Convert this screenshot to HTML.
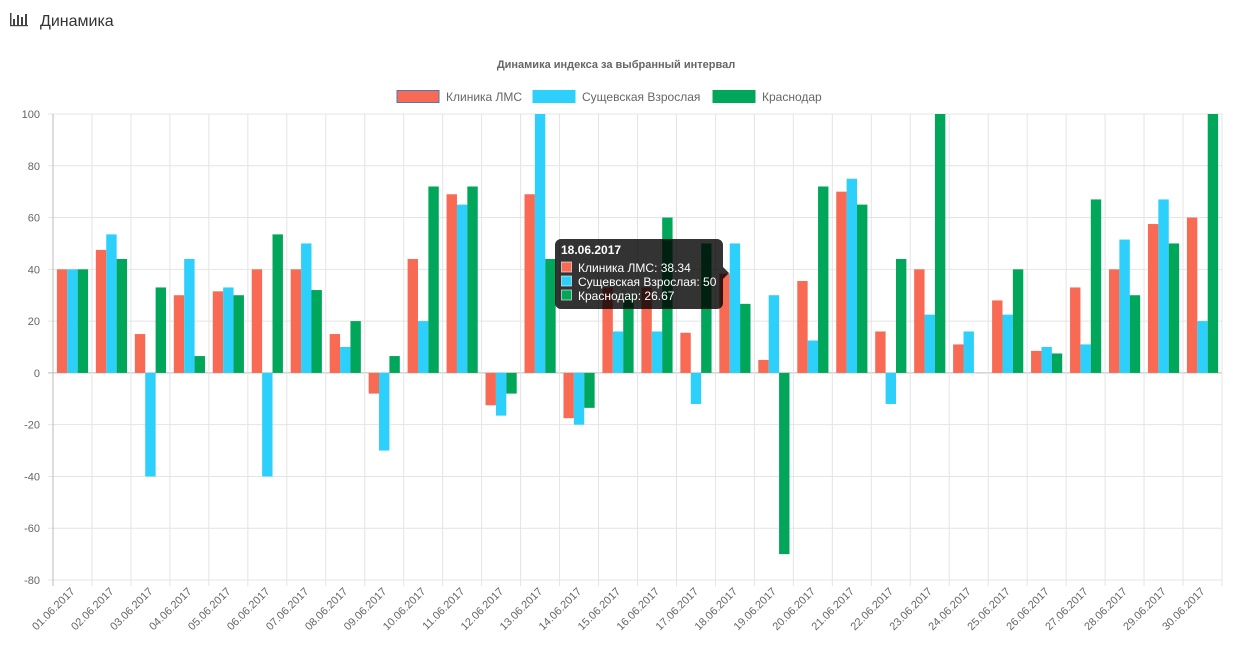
<!DOCTYPE html>
<html><head><meta charset="utf-8"><style>
body{margin:0;background:#fff;font-family:"Liberation Sans",sans-serif;}
</style></head><body>
<svg id="s" width="1233" height="649" xmlns="http://www.w3.org/2000/svg" font-family="Liberation Sans, sans-serif"></svg>
<script>
const s=document.getElementById('s');let h='';
// header
h+='<g fill="#444"><rect x="10" y="13" width="1.5" height="13"/><rect x="10" y="25" width="18" height="1.2"/><rect x="13" y="19" width="2" height="6"/><rect x="17" y="15" width="2" height="10"/><rect x="21" y="17" width="2" height="8"/><rect x="25" y="14" width="2" height="11"/></g>';
h+='<text x="40" y="26" font-size="16" fill="#333">Динамика</text>';
h+='<text x="616" y="68" font-size="11" font-weight="bold" fill="#666" text-anchor="middle">Динамика индекса за выбранный интервал</text>';
const C=['#F86A54','#2CD0FA','#00A65A'],S=['#4a7ab8','#2CD0FA','#00A65A'];
const L=['Клиника ЛМС','Сущевская Взрослая','Краснодар'],LX=[397,533,713];
for(let i=0;i<3;i++){h+=`<rect x="${LX[i]}" y="90.5" width="42" height="12" fill="${C[i]}" stroke="${i==0?'#4a7ab8':C[i]}"/><text x="${LX[i]+49}" y="101" font-size="12" fill="#666">${L[i]}</text>`;}
const x0=53,x1=1222,y0=114,py=(580-114)/180,zy=v=>y0+(100-v)*py;
for(let v=100;v>=-80;v-=20){const y=zy(v);h+=`<line x1="48" x2="${x1}" y1="${y}" y2="${y}" stroke="${v==0?'#bbb':'#e4e4e4'}"/><text x="40" y="${y+4}" font-size="11" fill="#666" text-anchor="end">${v}</text>`;}
const cw=(x1-x0)/30;
for(let i=0;i<=30;i++){const x=x0+i*cw;h+=`<line x1="${x}" x2="${x}" y1="${y0}" y2="586" stroke="${i==0?'#bbb':'#e4e4e4'}"/>`;}
const D=[[40,40,40],[47.5,53.5,44],[15,-40,33],[30,44,6.5],[31.5,33,30],[40,-40,53.5],[40,50,32],[15,10,20],[-8,-30,6.5],[44,20,72],[69,65,72],[-12.5,-16.5,-8],[69,100,44],[-17.5,-20,-13.5],[33,16,30],[33,16,60],[15.5,-12,50],[38.34,50,26.67],[5,30,-70],[35.5,12.5,72],[70,75,65],[16,-12,44],[40,22.5,100],[11,16,0],[28,22.5,40],[8.5,10,7.5],[33,11,67],[40,51.5,30],[57.5,67,50],[60,20,100]];
const bw=cw*0.8/3;
D.forEach((d,i)=>{const gx=x0+i*cw+cw*0.1;d.forEach((v,j)=>{if(!v)return;const a=zy(Math.max(v,0)),b=zy(Math.min(v,0));h+=`<rect x="${gx+j*bw}" y="${a}" width="${bw}" height="${b-a}" fill="${C[j]}"/>`;});
const cx=x0+(i+0.5)*cw,d2=String(i+1).padStart(2,'0');h+=`<text transform="translate(${cx+3},592) rotate(-45)" font-size="11" fill="#666" text-anchor="end">${d2}.06.2017</text>`;});
// tooltip
h+='<path d="M561,239 H717 a6,6 0 0 1 6,6 V267 L729,273 L723,279 V303 a6,6 0 0 1 -6,6 H561 a6,6 0 0 1 -6,-6 V245 a6,6 0 0 1 6,-6Z" fill="rgba(0,0,0,0.8)"/>';
h+='<text x="561" y="254" font-size="12" font-weight="bold" fill="#fff">18.06.2017</text>';
const tv=['Клиника ЛМС: 38.34','Сущевская Взрослая: 50','Краснодар: 26.67'];
for(let i=0;i<3;i++){const y=262+i*14;h+=`<rect x="561.5" y="${y}" width="10" height="10" fill="${C[i]}" stroke="#fff" stroke-opacity="0.6"/><text x="578" y="${y+10}" font-size="12" fill="#fff">${tv[i]}</text>`;}
s.innerHTML=h;
</script></body></html>
